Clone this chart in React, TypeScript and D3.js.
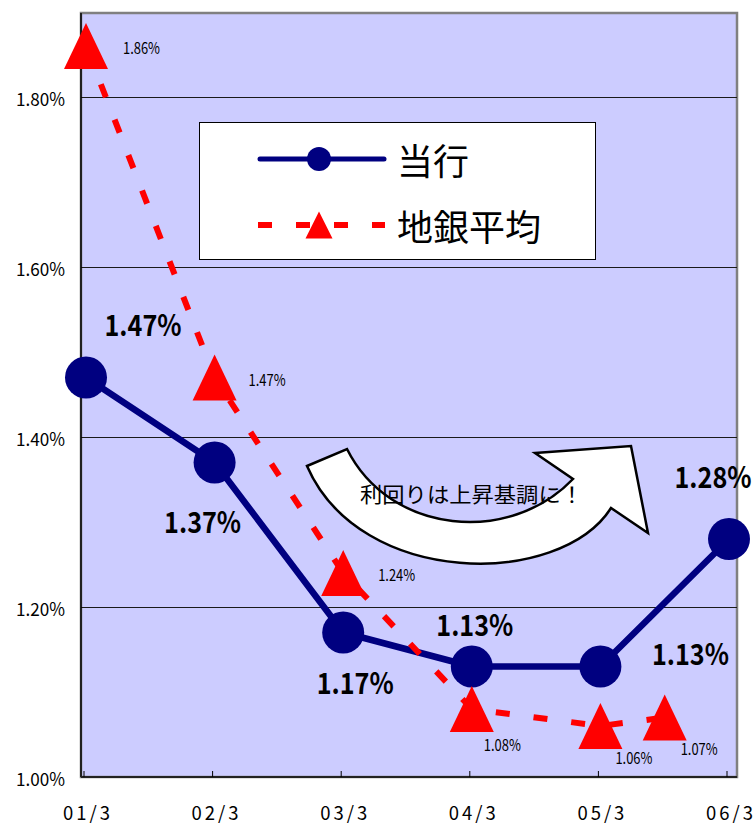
import React from "react";
import * as d3 from "d3";

// Categories (fiscal year / month)
const categories = ["01/3", "02/3", "03/3", "04/3", "05/3", "06/3"];

// 当行 yield (%)
const bankValues = [1.47, 1.37, 1.17, 1.13, 1.13, 1.28];

// 地銀平均 yield (%) and its positions on the category axis
const regionalPositions = [0, 1, 2, 3, 4, 4.5];
const regionalValues = [1.86, 1.47, 1.24, 1.08, 1.06, 1.07];

// Y axis ticks
const yTicks = [1.0, 1.2, 1.4, 1.6, 1.8];

const seriesNames = ["当行", "地銀平均"];
const calloutText = "利回りは上昇基調に！";

// Label placement (offsets from the marker to the label centre, pixels)
const bankLabelOffsets: [number, number][] = [
  [57, -52],
  [-12, 60],
  [12, 51],
  [3, -41],
  [90, -12],
  [-16, -61],
];
const regionalLabelOffsets: [number, number][] = [
  [37, 2.5],
  [34, 2.5],
  [35, 2],
  [12, 36],
  [15, 32],
  [16, 32],
];

const W = 756;
const H = 825;
const plot = { left: 81, right: 737, top: 13, bottom: 777 };
const FONT = "'Noto Sans CJK JP', 'Noto Sans', sans-serif";
const NAVY = "#000080";
const RED = "#FF0000";

const fmt = (v: number) => v.toFixed(2) + "%";

function triangle(cx: number, cy: number, w: number, h: number) {
  return `M${cx},${cy - h / 2}L${cx + w / 2},${cy + h / 2}L${cx - w / 2},${cy + h / 2}Z`;
}

export default function App() {
  const x = d3.scaleLinear().domain([0, categories.length - 1]).range([86, 729]);
  const y = d3.scaleLinear().domain([1.0, 1.9]).range([plot.bottom, plot.bottom - 765]);

  const bankPts = bankValues.map((v, i) => [x(i), y(v)] as [number, number]);
  const regPts = regionalValues.map((v, i) => [x(regionalPositions[i]), y(v)] as [number, number]);
  const line = d3.line();

  const arrowPath =
    "M307,466 L347,449 C390,535 510,545 573,479 L535,453 L631,446 L648,533 L611,508 C560,588 360,588 307,466 Z";

  return (
    <svg
      width={W}
      height={H}
      style={{ position: "absolute", left: 0, top: 0, background: "#fff" }}
      fontFamily={FONT}
    >
      {/* plot area */}
      <rect
        x={plot.left}
        y={plot.top}
        width={plot.right - plot.left}
        height={plot.bottom - plot.top}
        fill="#CCCCFF"
        stroke="#808080"
        strokeWidth={2.5}
      />
      {/* gridlines */}
      {yTicks
        .filter((t) => t > 1.0)
        .map((t) => (
          <line
            key={t}
            x1={plot.left}
            x2={plot.right}
            y1={Math.round(y(t)) + 0.5}
            y2={Math.round(y(t)) + 0.5}
            stroke="#1a1a1a"
            strokeWidth={1}
          />
        ))}
      {/* axes */}
      <line x1={plot.left} x2={plot.left} y1={plot.top} y2={plot.bottom} stroke="#000" strokeWidth={1.5} />
      <line x1={plot.left} x2={plot.right} y1={plot.bottom} y2={plot.bottom} stroke="#222" strokeWidth={2} />
      {categories.map((c, i) => (
        <line key={c} x1={x(i) - 2} x2={x(i) - 2} y1={plot.bottom - 6} y2={plot.bottom} stroke="#000" strokeWidth={1} />
      ))}
      {/* y tick labels */}
      {yTicks.map((t) => (
        <text
          key={t}
          x={16}
          y={y(t) + 3 + 0.36 * 18}
          fontSize={18}
          textLength={49}
          lengthAdjust="spacingAndGlyphs"
          fill="#000"
        >
          {fmt(t)}
        </text>
      ))}
      {/* x tick labels */}
      {categories.map((c, i) => (
        <text
          key={c}
          x={x(i) - 23}
          y={820}
          fontSize={18.5}
          textLength={47}
          lengthAdjust="spacing"
          fill="#000"
        >
          {c}
        </text>
      ))}

      {/* callout arrow */}
      <path d={arrowPath} fill="#fff" stroke="#000" strokeWidth={2.5} strokeLinejoin="miter" />
      <text
        x={360}
        y={493}
        dominantBaseline="central"
        fontSize={21}
        textLength={223}
        lengthAdjust="spacingAndGlyphs"
        fill="#000"
      >
        {calloutText}
      </text>

      {/* legend */}
      <rect x={199.5} y={122.5} width={396} height={137} fill="#fff" stroke="#000" strokeWidth={1} />
      <line x1={260} x2={384} y1={159} y2={159} stroke={NAVY} strokeWidth={5} strokeLinecap="round" />
      <circle cx={319} cy={159} r={12} fill={NAVY} />
      <text x={397} y={159} dominantBaseline="central" fontSize={36} fill="#000">
        {seriesNames[0]}
      </text>
      <line x1={258} x2={385} y1={225} y2={225} stroke={RED} strokeWidth={6} strokeDasharray="14 24" />
      <path d={triangle(319, 225, 27, 27)} fill={RED} />
      <text x={397} y={225} dominantBaseline="central" fontSize={36} fill="#000">
        {seriesNames[1]}
      </text>

      {/* 当行 series */}
      <path d={line(bankPts) ?? ""} fill="none" stroke={NAVY} strokeWidth={6.5} strokeLinejoin="round" />
      {bankPts.map(([px, py], i) => (
        <circle key={i} cx={px} cy={py} r={21} fill={NAVY} />
      ))}

      {/* 地銀平均 series */}
      <path d={line(regPts) ?? ""} fill="none" stroke={RED} strokeWidth={6} strokeDasharray="14 24" strokeDashoffset={-3} />
      {regPts.map(([px, py], i) => (
        <path key={i} d={triangle(px, py, 44, 46)} fill={RED} />
      ))}

      {/* 当行 labels */}
      {bankPts.map(([px, py], i) => (
        <text
          key={i}
          x={px + bankLabelOffsets[i][0] + 38.5}
          y={py + bankLabelOffsets[i][1] + 0.36 * 29}
          textAnchor="end"
          fontSize={29}
          fontWeight="bold"
          textLength={77}
          lengthAdjust="spacingAndGlyphs"
          fill="#000"
        >
          {fmt(bankValues[i])}
        </text>
      ))}
      {/* 地銀平均 labels */}
      {regPts.map(([px, py], i) => (
        <text
          key={i}
          x={px + regionalLabelOffsets[i][0]}
          y={py + regionalLabelOffsets[i][1] + 0.36 * 16}
          fontSize={16}
          textLength={37}
          lengthAdjust="spacingAndGlyphs"
          fill="#000"
        >
          {fmt(regionalValues[i])}
        </text>
      ))}
    </svg>
  );
}
